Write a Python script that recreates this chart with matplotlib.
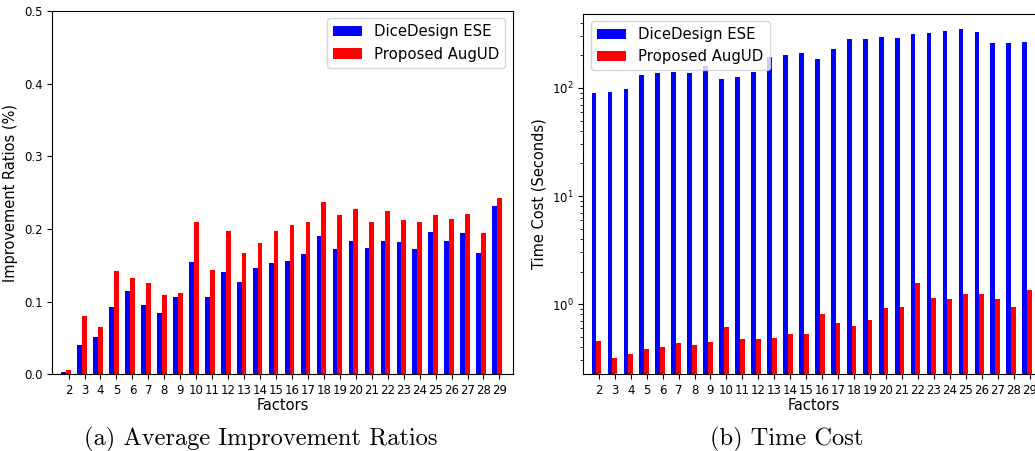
import numpy as np
import matplotlib
matplotlib.use("Agg")
import matplotlib.pyplot as plt

factors = list(range(2, 30))

# average improvement ratios
ese_ratio = [0.003, 0.041, 0.051, 0.093, 0.115, 0.095, 0.084, 0.107, 0.155, 0.107,
             0.141, 0.127, 0.146, 0.153, 0.156, 0.165, 0.190, 0.172, 0.184, 0.174,
             0.184, 0.182, 0.172, 0.196, 0.183, 0.195, 0.167, 0.232]
augud_ratio = [0.006, 0.080, 0.065, 0.142, 0.132, 0.126, 0.109, 0.112, 0.209, 0.144,
               0.197, 0.167, 0.181, 0.197, 0.205, 0.209, 0.237, 0.219, 0.228, 0.209,
               0.225, 0.212, 0.209, 0.219, 0.214, 0.220, 0.195, 0.242]

# time cost in seconds
ese_time = [90.5, 91.8, 98.6, 131, 139, 142, 139, 161, 120, 126,
            142, 192, 201, 212, 184, 228, 286, 286, 296, 290,
            318, 325, 337, 349, 330, 261, 261, 267]
augud_time = [0.454, 0.318, 0.344, 0.383, 0.403, 0.438, 0.417, 0.445, 0.617, 0.471,
              0.471, 0.481, 0.528, 0.524, 0.802, 0.671, 0.626, 0.711, 0.925, 0.938,
              1.564, 1.137, 1.120, 1.246, 1.246, 1.104, 0.938, 1.338]

x = np.array(factors)
w = 0.3
BLUE = "#0000ff"
RED = "#ff0000"

fig = plt.figure(figsize=(10.35, 4.51), dpi=100, facecolor="white")
ax1 = fig.add_axes([0.0505, 0.170, 0.445, 0.806])
ax2 = fig.add_axes([0.5636, 0.170, 0.445, 0.800])

# (a) improvement ratios
ax1.bar(x - w, ese_ratio, w, color=BLUE, label="DiceDesign ESE")
ax1.bar(x, augud_ratio, w, color=RED, label="Proposed AugUD")
ax1.set_ylim(0, 0.5)
ax1.set_yticks([0.0, 0.1, 0.2, 0.3, 0.4, 0.5])
ax1.set_xlim(0.98, 29.84)
ax1.set_xticks(x)
ax1.set_ylabel("Improvement Ratios (%)", fontsize=10.5)
ax1.set_xlabel("Factors", fontsize=10.5, labelpad=1)
ax1.legend(loc="upper right", fontsize=10.7)

# (b) time cost, log scale
ax2.bar(x - w, ese_time, w, color=BLUE, label="DiceDesign ESE")
ax2.bar(x, augud_time, w, color=RED, label="Proposed AugUD")
ax2.set_yscale("log")
ax2.set_ylim(0.2234, 489)
ax2.set_xlim(1.03, 29.9)
ax2.set_xticks(x)
ax2.set_ylabel("Time Cost (Seconds)", fontsize=10.5)
ax2.set_xlabel("Factors", fontsize=10.5, labelpad=1)
ax2.legend(loc="upper left", fontsize=10.7)

for ax in (ax1, ax2):
    ax.tick_params(labelsize=8.5)

fig.text(0.2515, 0.013, "(a) Average Improvement Ratios", fontfamily="cmr10",
         fontsize=17.6, ha="center", va="baseline")
fig.text(0.760, 0.013, "(b) Time Cost", fontfamily="cmr10",
         fontsize=17.6, ha="center", va="baseline")

fig.savefig("out.png", dpi=100, facecolor="white")
